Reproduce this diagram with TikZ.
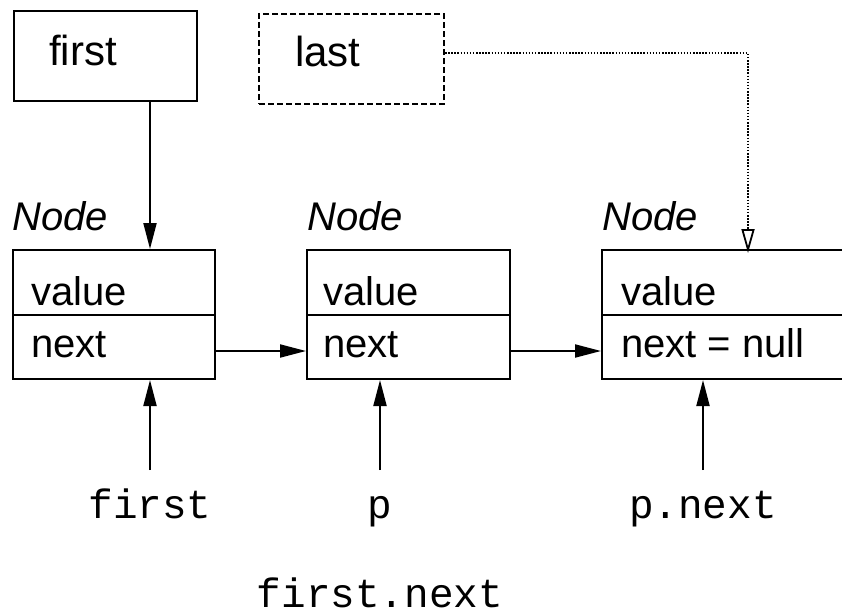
\documentclass[tikz,border=0pt]{standalone}
\usepackage{fontspec}
\setmainfont{Liberation Sans}
\newfontfamily\monofont{Liberation Mono}
\usetikzlibrary{arrows.meta}
\begin{document}
\begin{tikzpicture}[x=1pt,y=-1pt,
  box/.style={draw, line width=2pt, inner sep=0pt, anchor=north west},
  dbox/.style={box, dash pattern=on 6pt off 3pt},
  fld/.style={anchor=base west, inner sep=0pt, font=\fontsize{40}{46}\selectfont},
  topt/.style={anchor=base west, inner sep=0pt, font=\fontsize{42}{48}\selectfont},
  nlab/.style={anchor=base west, inner sep=0pt, font=\fontsize{40}{46}\selectfont\itshape},
  mono/.style={anchor=base, inner sep=0pt, font=\fontsize{41}{46}\monofont},
  arr/.style={line width=2pt, -{Triangle[length=26pt,width=13pt]}},
  dotarr/.style={line width=2pt, dash pattern=on 1.5pt off 1.6pt, -{Triangle[open,length=24pt,width=13pt,line width=1.8pt]}}]
\useasboundingbox (0,0) rectangle (842,614);
\clip (0,0) rectangle (842,614);
% top boxes
\node[box, minimum width=183pt, minimum height=90pt] (firstbox) at (13,10) {};
\node[topt] (firsttxt) at (49,65) {first};
\node[dbox, minimum width=185pt, minimum height=90pt] (lastbox) at (258,13) {};
\node[topt] (lasttxt) at (295,66) {last};
% Node labels
\node[nlab] (nl1) at (12,230) {Node};
\node[nlab] (nl2) at (307,230) {Node};
\node[nlab] (nl3) at (602,230) {Node};
% node boxes
\node[box, minimum width=202pt, minimum height=65pt] (n1v) at (12,249) {};
\node[box, minimum width=202pt, minimum height=64pt] (n1n) at (12,314) {};
\node[box, minimum width=203pt, minimum height=65pt] (n2v) at (306,249) {};
\node[box, minimum width=203pt, minimum height=64pt] (n2n) at (306,314) {};
\node[box, minimum width=262pt, minimum height=65pt] (n3v) at (601,249) {};
\node[box, minimum width=262pt, minimum height=64pt] (n3n) at (601,314) {};
\node[fld] (v1) at (31,305) {value};
\node[fld] (x1) at (31,357) {next};
\node[fld] (v2) at (323,305) {value};
\node[fld] (x2) at (323,357) {next};
\node[fld] (v3) at (621,305) {value};
\node[fld] (x3) at (621,357) {next = null};
% bottom labels
\node[mono] (lf) at (150,518) {first};
\node[mono] (lp) at (380,518) {p};
\node[mono] (lpn) at (703,518) {p.next};
\node[mono] (lfn) at (380,607) {first.next};
% connectors
\draw[arr] (firstbox.south -| 150,0) -- (n1v.north -| 150,0);
\draw[dotarr] (lastbox.east |- 0,53) -| ([yshift=-4pt]n3v.north -| 748,0);
\draw[arr] (n1n.east |- 0,351) -- (n2n.west |- 0,351);
\draw[arr] (n2n.east |- 0,351) -- (n3n.west |- 0,351);
\draw[arr] (lf.north |- 0,470) -- (n1n.south -| lf.north);
\draw[arr] (lp.north |- 0,470) -- (n2n.south -| lp.north);
\draw[arr] (lpn.north |- 0,470) -- (n3n.south -| lpn.north);
\end{tikzpicture}
\end{document}
